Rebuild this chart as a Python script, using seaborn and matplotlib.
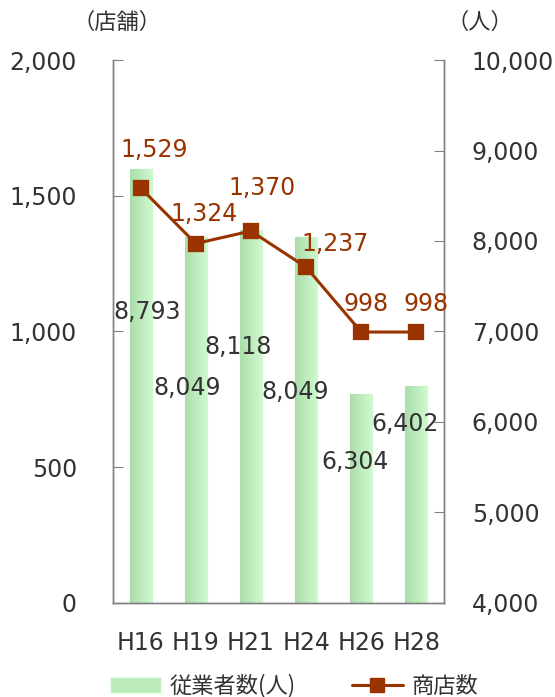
import numpy as np
import matplotlib
matplotlib.use("Agg")
import matplotlib.pyplot as plt
from matplotlib.patches import Patch
from matplotlib.lines import Line2D
from matplotlib.colors import LinearSegmentedColormap
import seaborn as sns

years = ["H16", "H19", "H21", "H24", "H26", "H28"]
employees = [8793, 8049, 8118, 8049, 6304, 6402]   # 従業者数(人), right axis
stores = [1529, 1324, 1370, 1237, 998, 998]          # 商店数, left axis

# label placement (offset from category centre, y in axis units)
emp_lab_dx = [0.11, -0.15, -0.24, -0.2, -0.12, -0.2]
emp_lab_y = [7215, 6376, 6829, 6331, 5558, 5978]
sto_lab_dx = [0.25, 0.15, 0.2, 0.53, 0.09, 0.18]
sto_lab_y = [1668, 1433, 1528, 1322, 1101, 1101]

BROWN = "#993300"
GRAY = "#808080"
TXT = "#333333"
FS = 17

sns.set_style("white")
plt.rcParams["font.family"] = ["DejaVu Sans", "Noto Sans CJK JP"]

fig = plt.figure(figsize=(5.55, 6.97), dpi=100)
ax_bar = fig.add_axes([0.2036, 0.1349, 0.5964, 0.779])
ax_line = ax_bar.twinx()

# bars (employees) on the right-hand scale
sns.barplot(x=years, y=employees, ax=ax_bar, width=0.4, color="#c4efc4",
            edgecolor="#e6ffe6", linewidth=1.0)
ax_bar.set_ylim(4000, 10000)
ax_bar.set_xlim(-0.5, 5.5)

# gradient fill inside each bar
cmap = LinearSegmentedColormap.from_list("g", ["#abdeab", "#d0f9d0"])
grad = np.linspace(0, 1, 64).reshape(1, -1)
for p in list(ax_bar.patches):
    x0, y0 = p.get_x(), p.get_y()
    w, h = p.get_width(), p.get_height()
    im = ax_bar.imshow(grad, cmap=cmap, aspect="auto",
                       extent=[x0, x0 + w, 4000, y0 + h], zorder=p.get_zorder() + 0.1)
    im.set_clip_path(p)
ax_bar.set_xlim(-0.5, 5.5)
ax_bar.set_ylim(4000, 10000)

# line (stores) on the left-hand scale
sns.pointplot(x=years, y=stores, ax=ax_line, color=BROWN, markers="s",
              markersize=10, linewidth=2.2)
ax_line.set_ylim(0, 2000)
ax_line.set_xlim(-0.5, 5.5)

# swap tick sides: stores on the left, employees on the right
ax_line.yaxis.tick_left()
ax_bar.yaxis.tick_right()
ax_line.set_ylabel("")
ax_bar.set_ylabel("")

ax_line.set_yticks([0, 500, 1000, 1500, 2000])
ax_line.set_yticklabels(["0", "500", "1,000", "1,500", "2,000"])
ax_bar.set_yticks(range(4000, 10001, 1000))
ax_bar.set_yticklabels([f"{v:,}" for v in range(4000, 10001, 1000)])

for ax in (ax_bar, ax_line):
    for s in ax.spines.values():
        s.set_color(GRAY)
        s.set_linewidth(1.0)
    ax.spines["top"].set_visible(False)

ax_line.tick_params(axis="y", direction="in", length=7, color=GRAY,
                    labelsize=FS, labelcolor=TXT, pad=26)
ax_bar.tick_params(axis="y", direction="in", length=7, color=GRAY,
                   labelsize=FS, labelcolor=TXT, pad=20)

# category labels, with tick marks between categories
ax_bar.set_xticks(range(len(years)))
ax_bar.set_xticklabels(years)
ax_bar.tick_params(axis="x", length=0, labelsize=FS, labelcolor=TXT, pad=20)
ax_bar.set_xticks(np.arange(0.5, 5.0, 1.0), minor=True)
ax_bar.tick_params(axis="x", which="minor", direction="in", length=6, color=GRAY)
ax_line.tick_params(axis="x", length=0, labelbottom=False)
ax_line.set_xlabel("")

# value labels
for i, v in enumerate(employees):
    ax_bar.text(i + emp_lab_dx[i], emp_lab_y[i], f"{v:,}", ha="center",
                va="center", fontsize=FS, color=TXT, zorder=5)
for i, v in enumerate(stores):
    ax_line.text(i + sto_lab_dx[i], sto_lab_y[i], f"{v:,}", ha="center",
                 va="center", fontsize=FS, color=BROWN, zorder=5)

# unit labels
fig.text(117 / 555, 1 - 22 / 697, "（店舗）", ha="center", va="center",
         fontsize=16, color=TXT, family=["Noto Sans CJK JP"])
fig.text(480 / 555, 1 - 22 / 697, "（人）", ha="center", va="center",
         fontsize=16, color=TXT, family=["Noto Sans CJK JP"])

handles = [Patch(facecolor="#bbeabb", edgecolor="#e6ffe6"),
           Line2D([0], [0], color=BROWN, lw=2.2, marker="s", markersize=10)]
fig.legend(handles, ["従業者数(人)", "商店数"], loc="center",
           bbox_to_anchor=(0.53, 1 - 686 / 697), ncol=2, frameon=False,
           prop={"family": ["Noto Sans CJK JP"], "size": 16},
           handlelength=2.3, handleheight=0.7, columnspacing=2.5,
           handletextpad=0.4, labelcolor=TXT)

fig.savefig("out.png", dpi=100)
